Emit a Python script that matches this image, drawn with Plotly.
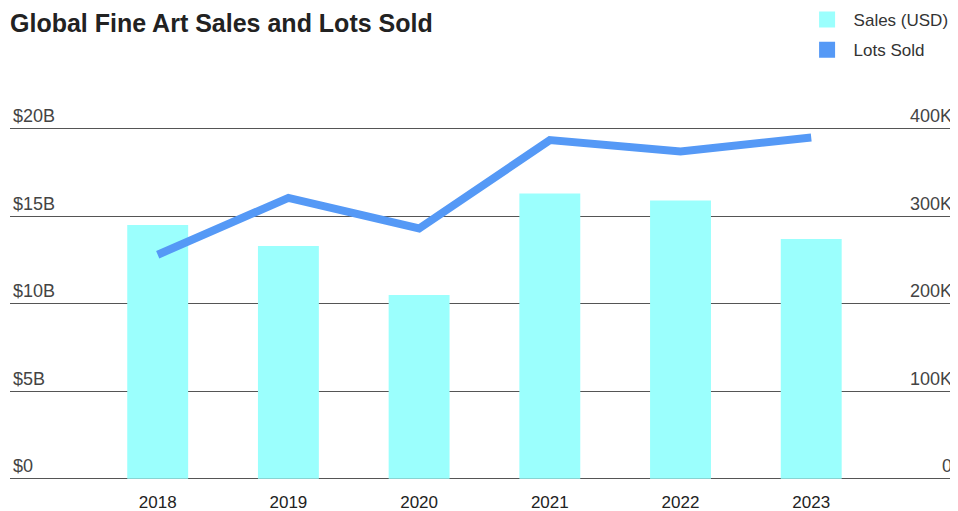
import plotly.graph_objects as go

# Data
years = ["2018", "2019", "2020", "2021", "2022", "2023"]
sales_b = [14.5, 13.3, 10.5, 16.3, 15.9, 13.7]          # billions USD
lots_sold = [256000, 321000, 286000, 387000, 374000, 390000]

sales_ticks = [0, 5, 10, 15, 20]
sales_tick_text = ["$0", "$5B", "$10B", "$15B", "$20B"]
lots_ticks = [0, 100000, 200000, 300000, 400000]
lots_tick_text = ["0", "100K", "200K", "300K", "400K"]

BAR_COLOR = "#9bfffd"
LINE_COLOR = "#5599f6"
GRID_COLOR = "#555555"
TEXT_COLOR = "#222222"
FONT = "Liberation Sans, Arial, sans-serif"

x_pos = list(range(len(years)))

fig = go.Figure()

fig.add_trace(go.Bar(
    x=x_pos, y=sales_b, name="Sales (USD)",
    marker=dict(color=BAR_COLOR, line=dict(width=0)),
    width=0.466, yaxis="y", showlegend=False,
))

fig.add_trace(go.Scatter(
    x=x_pos, y=lots_sold, name="Lots Sold", mode="lines",
    line=dict(color=LINE_COLOR, width=8),
    yaxis="y2", showlegend=False,
))

# legend entries drawn as square swatches, like the reference
for name, color in [("Sales (USD)", BAR_COLOR), ("Lots Sold", LINE_COLOR)]:
    fig.add_trace(go.Scatter(
        x=[None], y=[None], name=name, mode="markers",
        marker=dict(color=color, symbol="square", size=16),
        legendgroup=name,
    ))

fig.update_layout(
    width=950, height=503,
    margin=dict(l=2, r=3, t=98, b=27, autoexpand=False),
    paper_bgcolor="white", plot_bgcolor="white",
    font=dict(family=FONT, size=17, color=TEXT_COLOR),
    title=dict(
        text="<b>Global Fine Art Sales and Lots Sold</b>",
        xref="container", x=0.0021, xanchor="left",
        yref="container", y=0.97, yanchor="middle",
        font=dict(size=25, color=TEXT_COLOR),
    ),
    showlegend=True,
    legend=dict(
        xref="container", x=0.8343, xanchor="left",
        yref="paper", y=1.275, yanchor="top",
        font=dict(size=17, color="#333333"),
        itemsizing="trace", itemwidth=43, tracegroupgap=5,
        bgcolor="rgba(0,0,0,0)",
    ),
    xaxis=dict(
        tickmode="array", tickvals=x_pos, ticktext=years,
        range=[-1.13, 6.1], showgrid=False, zeroline=False,
        showline=False, ticks="outside", ticklen=3,
        tickcolor="rgba(0,0,0,0)", tickfont=dict(size=17),
    ),
    yaxis=dict(
        range=[-0.3, 21.3], tickmode="array", tickvals=sales_ticks,
        ticktext=sales_tick_text, ticklabelposition="inside top",
        showgrid=True, gridcolor=GRID_COLOR, gridwidth=1,
        zeroline=False, showline=False, ticks="",
        tickfont=dict(size=18),
    ),
    yaxis2=dict(
        range=[-6000, 426000], overlaying="y", side="right",
        tickmode="array", tickvals=lots_ticks, ticktext=lots_tick_text,
        ticklabelposition="inside top", showgrid=False,
        zeroline=False, showline=False, ticks="",
        tickfont=dict(size=18),
    ),
)

fig.write_html("out.html")
